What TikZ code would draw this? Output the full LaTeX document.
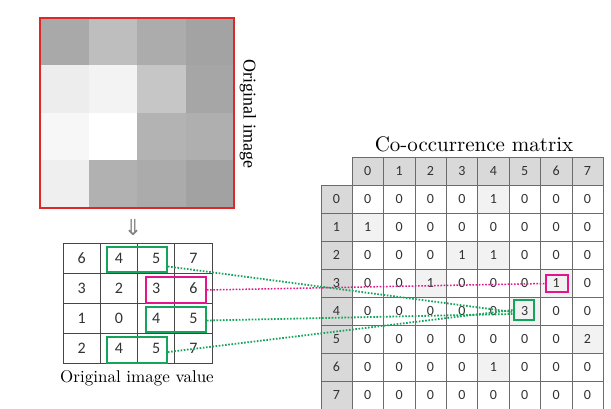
\documentclass[tikz,border=0pt]{standalone}
\usepackage{fontspec}
\newfontfamily\cellfont{Carlito}
\newfontfamily\timesfont{Liberation Serif}
\newfontfamily\symfont{DejaVu Sans}
\newfontfamily\lmten[Extension=.otf]{lmroman10-regular}
\definecolor{imgred}{RGB}{220,40,40}
\definecolor{boxgreen}{RGB}{20,165,90}
\definecolor{boxmag}{RGB}{228,20,140}
\definecolor{gridline}{RGB}{70,70,70}
\definecolor{headgray}{RGB}{217,217,217}
\definecolor{shade}{RGB}{242,242,242}
\definecolor{digit}{RGB}{50,50,50}
\tikzset{
  gcell/.style={draw=gridline, line width=0.8pt, minimum width=37.25pt, minimum height=30pt,
    inner sep=0pt, text=digit, font=\cellfont\fontsize{16}{16}\selectfont},
  mcell/.style={draw=gridline!80, line width=0.6pt, minimum width=31.4pt, minimum height=28pt,
    inner sep=0pt, text=digit, font=\cellfont\fontsize{14}{14}\selectfont},
  mhead/.style={mcell, fill=headgray},
  gbox/.style={draw=boxgreen, line width=1.8pt, inner sep=0pt},
  mbox/.style={draw=boxmag, line width=1.8pt, inner sep=0pt},
  gline/.style={draw=boxgreen, line width=1.8pt, dash pattern=on 1.6pt off 1.6pt},
  mline/.style={draw=boxmag, line width=1.5pt, dash pattern=on 1.6pt off 1.6pt},
}
\begin{document}
\begin{tikzpicture}[x=1pt,y=-1pt]
\useasboundingbox (0,0) rectangle (611,409);
\fill[white] (0,0) rectangle (611,409);

% original image pixels
\foreach \row/\vals in {0/{169,190,172,163},1/{237,243,198,166},2/{247,255,179,175},3/{239,177,171,162}}{
  \foreach \v [count=\c from 0] in \vals {
    \fill[fill={rgb,255:red,\v;green,\v;blue,\v}] ({40+\c*48.5},{18+\row*47.5}) rectangle ++(48.5,47.5);
  }
}
\node (img) [draw=imgred, line width=1.6pt, minimum width=194pt, minimum height=190pt, inner sep=0pt] at (137,113) {};
\node (imglabel) [rotate=-90, font=\timesfont\fontsize{18}{20}\selectfont] at (248,114) {Original image};

\node (arr) [font=\symfont\fontsize{22}{22}\selectfont, text=gray] at (133,228) {⇓};

% original image values
\foreach \row/\vals in {0/{6,4,5,7},1/{3,2,3,6},2/{1,0,4,5},3/{2,4,5,7}}{
  \foreach \v [count=\c from 0] in \vals {
    \node[gcell] (s-\row-\c) at ({63+18.625+\c*37.25},{243+15+\row*30}) {\v};
  }
}
\node (vallabel) [font=\lmten\fontsize{17}{19}\selectfont] at (137,378) {Original image value};

\node[gbox, minimum width=60pt, minimum height=25pt] (g1) at (137,259.5) {};
\node[mbox, minimum width=60pt, minimum height=26pt] (m1) at (176,290) {};
\node[gbox, minimum width=60pt, minimum height=25pt] (g2) at (176,319.5) {};
\node[gbox, minimum width=60pt, minimum height=26pt] (g3) at (137,350) {};

% co-occurrence matrix
\node (title) [font=\lmten\fontsize{21}{23}\selectfont] at (474,144) {Co-occurrence matrix};
\foreach \c in {0,...,7}{
  \node[mhead] (h-\c) at ({352+15.7+\c*31.4},171) {\c};
}
\foreach \row/\vals in {0/{0,0,0,0,1,0,0,0},1/{1,0,0,0,0,0,0,0},2/{0,0,0,1,1,0,0,0},3/{0,0,1,0,0,0,1,0},
  4/{0,0,0,0,0,3,0,0},5/{0,0,0,0,0,0,0,2},6/{0,0,0,0,1,0,0,0},7/{0,0,0,0,0,0,0,0}}{
  \node[mhead, minimum width=31pt] (r-\row) at (336.5,{185+14+\row*28}) {\row};
  \foreach \v [count=\c from 0] in \vals {
    \ifnum\v>0
      \node[mcell, fill=shade] (c-\row-\c) at ({352+15.7+\c*31.4},{185+14+\row*28}) {\v};
    \else
      \node[mcell, fill=white] (c-\row-\c) at ({352+15.7+\c*31.4},{185+14+\row*28}) {\v};
    \fi
  }
}
\node[mbox, minimum width=22pt, minimum height=17pt] (mt) at (557,283.5) {};
\node[gbox, minimum width=20pt, minimum height=20pt] (gt) at (524,310) {};

% connectors
\draw[mline] (m1.east) -- (mt.west);
\draw[gline] ([yshift=-7pt]g1.east) -- ([yshift=-2pt]gt.west);
\draw[gline] ([yshift=-1pt]g2.east) -- ([yshift=-4pt]gt.west);
\draw[gline] ([yshift=-2pt]g3.east) -- ([yshift=0pt]gt.west);
\end{tikzpicture}
\end{document}
